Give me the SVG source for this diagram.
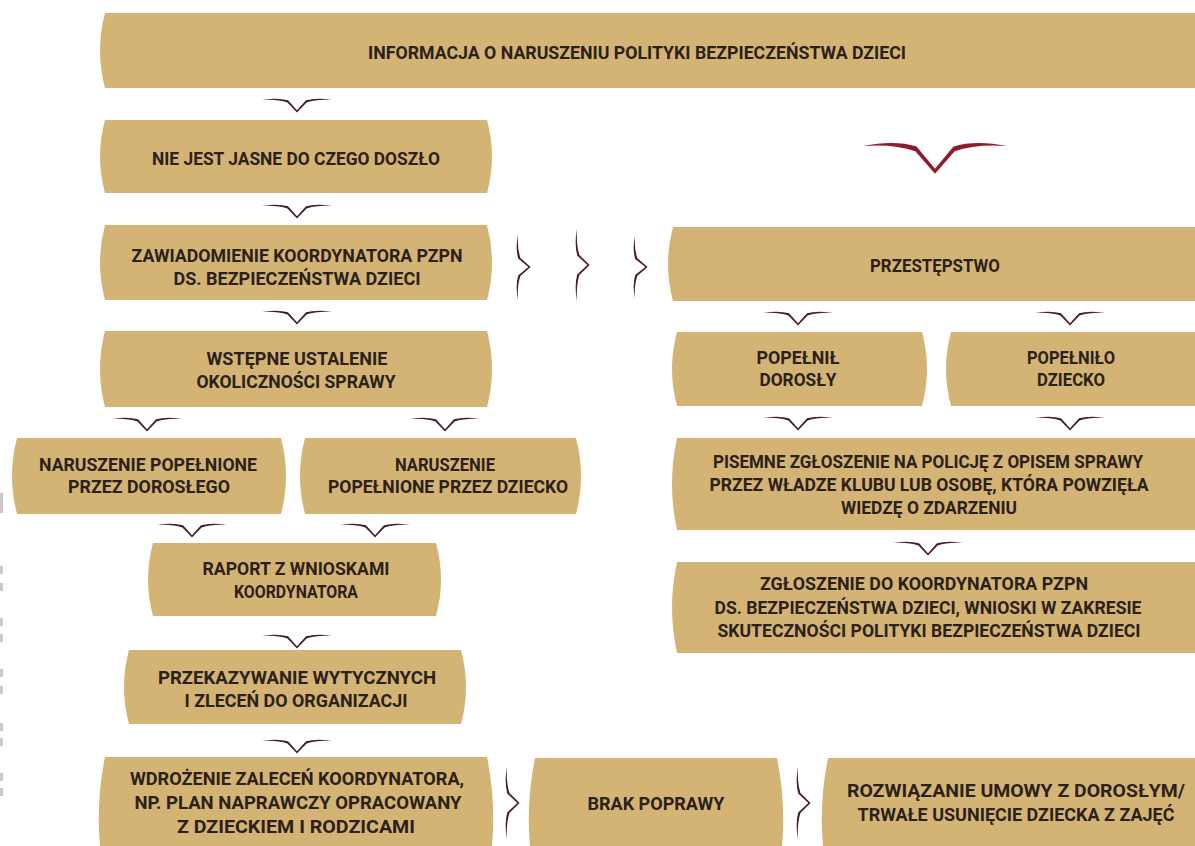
<svg xmlns="http://www.w3.org/2000/svg" xmlns:xlink="http://www.w3.org/1999/xlink" width="1195" height="846" viewBox="0 0 1195 846">
<style>
.box{fill:#D4B475;}
.t{font-family:Roboto,"Liberation Sans",sans-serif;font-weight:700;font-size:19px;fill:#2B2119;text-anchor:middle;}
.w{fill:#4A1C26;}
.wb{fill:#8B1D2C;}
.dash{fill:#C9C9C9;}
</style>
<defs>
<path id="wing" d="M-35,-10 Q-20,-12.8 -9,-9.8 L0,0.3 L9,-9.8 Q20,-12.8 35,-10 Q20,-11 9.6,-7.6 L0,2.6 L-9.6,-7.6 Q-20,-11 -35,-10 Z"/>
</defs>
<rect width="1195" height="846" fill="#FFFFFF"/>
<g id="leftmarks">
<rect class="dash" x="0" y="493" width="3" height="20"/>
<rect class="dash" x="0" y="566" width="3" height="8"/>
<rect class="dash" x="0" y="583" width="3" height="8"/>
<rect class="dash" x="0" y="618" width="3" height="8"/>
<rect class="dash" x="0" y="634" width="3" height="8"/>
<rect class="dash" x="0" y="669" width="3" height="8"/>
<rect class="dash" x="0" y="686" width="3" height="8"/>
<rect class="dash" x="0" y="723" width="3" height="8"/>
<rect class="dash" x="0" y="738" width="3" height="8"/>
<rect class="dash" x="0" y="773" width="3" height="8"/>
<rect class="dash" x="0" y="788" width="3" height="8"/>
</g>
<g id="n-banner">
<path class="box" d="M105,13 H1195 V88 H105 Q95,50.5 105,13 Z"/>
<text class="t" x="637" y="59" textLength="538" lengthAdjust="spacingAndGlyphs">INFORMACJA O NARUSZENIU POLITYKI BEZPIECZEŃSTWA DZIECI</text>
</g>
<g id="n-niejasne">
<path class="box" d="M105,120 H487 Q497,156.5 487,193 H105 Q95,156.5 105,120 Z"/>
<text class="t" x="296" y="165" textLength="288" lengthAdjust="spacingAndGlyphs">NIE JEST JASNE DO CZEGO DOSZŁO</text>
</g>
<g id="n-zawiadomienie">
<path class="box" d="M105,225 H487 Q497,262.5 487,300 H105 Q95,262.5 105,225 Z"/>
<text class="t" x="297" y="262" textLength="331" lengthAdjust="spacingAndGlyphs">ZAWIADOMIENIE KOORDYNATORA PZPN</text>
<text class="t" x="297" y="285" textLength="247" lengthAdjust="spacingAndGlyphs">DS. BEZPIECZEŃSTWA DZIECI</text>
</g>
<g id="n-wstepne">
<path class="box" d="M105,331 H487 Q497,369 487,407 H105 Q95,369 105,331 Z"/>
<text class="t" x="297" y="365" textLength="181" lengthAdjust="spacingAndGlyphs">WSTĘPNE USTALENIE</text>
<text class="t" x="296" y="388" textLength="199" lengthAdjust="spacingAndGlyphs">OKOLICZNOŚCI SPRAWY</text>
</g>
<g id="n-nar-dorosly">
<path class="box" d="M17,438 H281 Q291,476 281,514 H17 Q7,476 17,438 Z"/>
<text class="t" x="148" y="471" textLength="218" lengthAdjust="spacingAndGlyphs">NARUSZENIE POPEŁNIONE</text>
<text class="t" x="149" y="493" textLength="162" lengthAdjust="spacingAndGlyphs">PRZEZ DOROSŁEGO</text>
</g>
<g id="n-nar-dziecko">
<path class="box" d="M305,438 H576 Q586,476 576,514 H305 Q295,476 305,438 Z"/>
<text class="t" x="445" y="471" textLength="100" lengthAdjust="spacingAndGlyphs">NARUSZENIE</text>
<text class="t" x="448" y="493" textLength="240" lengthAdjust="spacingAndGlyphs">POPEŁNIONE PRZEZ DZIECKO</text>
</g>
<g id="n-raport">
<path class="box" d="M153,543 H436 Q446,579.5 436,616 H153 Q143,579.5 153,543 Z"/>
<text class="t" x="296" y="575" textLength="187" lengthAdjust="spacingAndGlyphs">RAPORT Z WNIOSKAMI</text>
<text class="t" x="296" y="598" textLength="124" lengthAdjust="spacingAndGlyphs">KOORDYNATORA</text>
</g>
<g id="n-przekazywanie">
<path class="box" d="M129,650 H461 Q471,687 461,724 H129 Q119,687 129,650 Z"/>
<text class="t" x="297" y="684" textLength="278" lengthAdjust="spacingAndGlyphs">PRZEKAZYWANIE WYTYCZNYCH</text>
<text class="t" x="296" y="707" textLength="223" lengthAdjust="spacingAndGlyphs">I ZLECEŃ DO ORGANIZACJI</text>
</g>
<g id="n-wdrozenie">
<path class="box" d="M105,757 H487 Q496,801 492,846 H100 Q96,801 105,757 Z"/>
<text class="t" x="297" y="785" textLength="334" lengthAdjust="spacingAndGlyphs">WDROŻENIE ZALECEŃ KOORDYNATORA,</text>
<text class="t" x="298" y="809" textLength="327" lengthAdjust="spacingAndGlyphs">NP. PLAN NAPRAWCZY OPRACOWANY</text>
<text class="t" x="296" y="833" textLength="238" lengthAdjust="spacingAndGlyphs">Z DZIECKIEM I RODZICAMI</text>
</g>
<g id="n-brak">
<path class="box" d="M535,758 H777 Q786,802 782,846 H530 Q526,802 535,758 Z"/>
<text class="t" x="656" y="810" textLength="137" lengthAdjust="spacingAndGlyphs">BRAK POPRAWY</text>
</g>
<g id="n-rozwiazanie">
<path class="box" d="M828,758 H1195 V846 H823 Q819,802 828,758 Z"/>
<text class="t" x="1016" y="797" textLength="338" lengthAdjust="spacingAndGlyphs">ROZWIĄZANIE UMOWY Z DOROSŁYM/</text>
<text class="t" x="1016" y="821" textLength="317" lengthAdjust="spacingAndGlyphs">TRWAŁE USUNIĘCIE DZIECKA Z ZAJĘĆ</text>
</g>
<g id="n-przestepstwo">
<path class="box" d="M673,227 H1195 V301 H673 Q663,264 673,227 Z"/>
<text class="t" x="935" y="272" textLength="130" lengthAdjust="spacingAndGlyphs">PRZESTĘPSTWO</text>
</g>
<g id="n-popelnil">
<path class="box" d="M677,332 H922 Q932,369 922,406 H677 Q667,369 677,332 Z"/>
<text class="t" x="798" y="364" textLength="83" lengthAdjust="spacingAndGlyphs">POPEŁNIŁ</text>
<text class="t" x="798" y="386" textLength="77" lengthAdjust="spacingAndGlyphs">DOROSŁY</text>
</g>
<g id="n-popelnilo">
<path class="box" d="M951,332 H1195 V406 H951 Q941,369 951,332 Z"/>
<text class="t" x="1071" y="364" textLength="88" lengthAdjust="spacingAndGlyphs">POPEŁNIŁO</text>
<text class="t" x="1071" y="386" textLength="68" lengthAdjust="spacingAndGlyphs">DZIECKO</text>
</g>
<g id="n-pisemne">
<path class="box" d="M677,438 H1195 V530 H677 Q667,484 677,438 Z"/>
<text class="t" x="928" y="468" textLength="430" lengthAdjust="spacingAndGlyphs">PISEMNE ZGŁOSZENIE NA POLICJĘ Z OPISEM SPRAWY</text>
<text class="t" x="929" y="491" textLength="439" lengthAdjust="spacingAndGlyphs">PRZEZ WŁADZE KLUBU LUB OSOBĘ, KTÓRA POWZIĘŁA</text>
<text class="t" x="929" y="514" textLength="176" lengthAdjust="spacingAndGlyphs">WIEDZĘ O ZDARZENIU</text>
</g>
<g id="n-zgloszenie">
<path class="box" d="M677,562 H1195 V653 H677 Q667,607.5 677,562 Z"/>
<text class="t" x="924" y="590" textLength="328" lengthAdjust="spacingAndGlyphs">ZGŁOSZENIE DO KOORDYNATORA PZPN</text>
<text class="t" x="928" y="614" textLength="427" lengthAdjust="spacingAndGlyphs">DS. BEZPIECZEŃSTWA DZIECI, WNIOSKI W ZAKRESIE</text>
<text class="t" x="929" y="637" textLength="423" lengthAdjust="spacingAndGlyphs">SKUTECZNOŚCI POLITYKI BEZPIECZEŃSTWA DZIECI</text>
</g>
<g id="connectors">
<use xlink:href="#wing" class="w" transform="translate(297,110)"/>
<use xlink:href="#wing" class="w" transform="translate(297,216)"/>
<use xlink:href="#wing" class="w" transform="translate(297,322)"/>
<use xlink:href="#wing" class="w" transform="translate(147,429)"/>
<use xlink:href="#wing" class="w" transform="translate(445,429)"/>
<use xlink:href="#wing" class="w" transform="translate(192,535)"/>
<use xlink:href="#wing" class="w" transform="translate(375,535)"/>
<use xlink:href="#wing" class="w" transform="translate(297,646)"/>
<use xlink:href="#wing" class="w" transform="translate(297,751)"/>
<use xlink:href="#wing" class="wb" transform="translate(935,168) scale(2.05,2.2)"/>
<use xlink:href="#wing" class="w" transform="translate(798,323)"/>
<use xlink:href="#wing" class="w" transform="translate(1070,323)"/>
<use xlink:href="#wing" class="w" transform="translate(798,428)"/>
<use xlink:href="#wing" class="w" transform="translate(1070,428)"/>
<use xlink:href="#wing" class="w" transform="translate(928,553)"/>
<use xlink:href="#wing" class="w" transform="translate(528,267) rotate(-90) scale(0.95,1)"/>
<use xlink:href="#wing" class="w" transform="translate(587,265) rotate(-90) scale(1.05,1)"/>
<use xlink:href="#wing" class="w" transform="translate(645,267) rotate(-90) scale(0.9,1)"/>
<use xlink:href="#wing" class="w" transform="translate(517,803) rotate(-90) scale(1.05,1)"/>
<use xlink:href="#wing" class="w" transform="translate(808,803) rotate(-90) scale(1.05,1)"/>
</g>
</svg>
